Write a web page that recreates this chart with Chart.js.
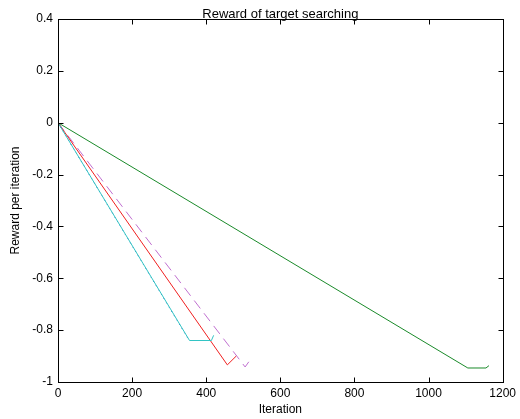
<!DOCTYPE html>
<html>
<head>
<meta charset="utf-8">
<script src="https://cdn.jsdelivr.net/npm/chart.js@4.4.0/dist/chart.umd.min.js"></script>
<style>
  html, body { margin: 0; padding: 0; background: #fff; }
  #wrap { width: 520px; height: 419px; }
</style>
</head>
<body>
<div id="wrap"><canvas id="rewardChart" width="520" height="419"></canvas></div>
<script>
// x ticks and y ticks
const iterTicks = [0, 200, 400, 600, 800, 1000, 1200]
const rewardTicks = [0.4, 0.2, 0, -0.2, -0.4, -0.6, -0.8, -1]

// series
const blueIter = [0, 352, 355]
const blueReward = [0, -0.835, -0.84]
const greenIter = [0, 1106, 1155, 1163]
const greenReward = [0, -0.946, -0.946, -0.937]
const redIter = [0, 457, 481]
const redReward = [0, -0.934, -0.90]
const cyanIter = [0, 355, 414, 420]
const cyanReward = [0, -0.84, -0.84, -0.82]
const magentaIter = [0, 505, 524]
const magentaReward = [0, -0.942, -0.904]

const toPoints = (xs, ys) => xs.map((x, i) => ({x: x, y: ys[i]}))

const fontFam = '"Liberation Sans", Arial, Helvetica, sans-serif'

// box + inward ticks like matlab, and the title
const matlabBox = {
  id: 'matlabBox',
  afterDraw(chart) {
    const {ctx, chartArea: a, scales} = chart
    ctx.save()
    ctx.strokeStyle = '#000'
    ctx.lineWidth = 1
    const L = Math.round(a.left) + 0.5, R = Math.round(a.right) + 0.5
    const T = Math.round(a.top) + 0.5, B = Math.round(a.bottom) + 0.5
    ctx.strokeRect(L, T, R - L, B - T)
    ctx.beginPath()
    iterTicks.forEach(v => {
      const px = Math.round(scales.x.getPixelForValue(v)) + 0.5
      ctx.moveTo(px, B); ctx.lineTo(px, B - 5)
      ctx.moveTo(px, T); ctx.lineTo(px, T + 5)
    })
    rewardTicks.forEach(v => {
      const py = Math.round(scales.y.getPixelForValue(v)) + 0.5
      ctx.moveTo(L, py); ctx.lineTo(L + 5, py)
      ctx.moveTo(R, py); ctx.lineTo(R - 5, py)
    })
    ctx.stroke()
    ctx.fillStyle = '#000'
    ctx.font = '13px ' + fontFam
    ctx.textAlign = 'center'
    ctx.textBaseline = 'alphabetic'
    ctx.fillText('Reward of target searching', (a.left + a.right) / 2, 18)
    ctx.restore()
  }
}

const ds = (label, xs, ys, color, dash) => ({
  label: label,
  data: toPoints(xs, ys),
  borderColor: color,
  borderWidth: 1,
  borderDash: dash || [],
  pointRadius: 0,
  fill: false,
  tension: 0
})

new Chart(document.getElementById('rewardChart'), {
  type: 'line',
  data: {
    datasets: [
      ds('cyan', cyanIter, cyanReward, '#33c4c4'),
      ds('blue', blueIter, blueReward, '#1f5fc0', [1, 4]),
      ds('green', greenIter, greenReward, '#1a8a2a'),
      ds('red', redIter, redReward, '#f02020'),
      ds('magenta', magentaIter, magentaReward, '#c070d0', [10, 6])
    ]
  },
  options: {
    responsive: false,
    animation: false,
    layout: { padding: { top: 19, right: 13, left: 0, bottom: 0 } },
    plugins: { legend: { display: false }, tooltip: { enabled: false }, title: { display: false } },
    scales: {
      x: {
        type: 'linear',
        min: 0, max: 1200,
        afterBuildTicks: s => { s.ticks = iterTicks.map(v => ({value: v})) },
        ticks: {
          color: '#000', font: { size: 12, family: fontFam }, padding: 4, maxRotation: 0,
          callback: v => String(v)
        },
        grid: { display: false, drawTicks: false },
        border: { display: false },
        title: { display: true, text: 'Iteration', color: '#000', font: { size: 12, family: fontFam }, padding: { top: 0, bottom: 2 } },
        afterFit: s => { s.height = 37 }
      },
      y: {
        type: 'linear',
        min: -1, max: 0.4,
        afterBuildTicks: s => { s.ticks = rewardTicks.map(v => ({value: v})) },
        ticks: {
          color: '#000', font: { size: 12, family: fontFam }, padding: 5,
          callback: v => String(Math.round(v * 10) / 10)
        },
        grid: { display: false, drawTicks: false },
        border: { display: false },
        title: { display: true, text: 'Reward per iteration', color: '#000', font: { size: 12, family: fontFam }, padding: { top: 8, bottom: 0 } },
        afterFit: s => { s.width = 58 }
      }
    }
  },
  plugins: [matlabBox]
})
</script>
</body>
</html>
